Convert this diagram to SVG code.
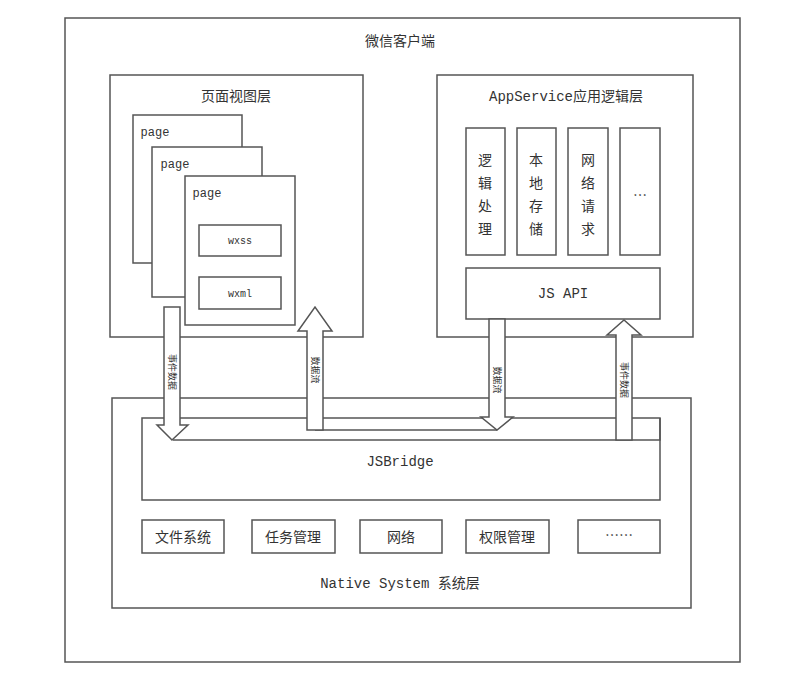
<svg xmlns="http://www.w3.org/2000/svg" width="799" height="686" viewBox="0 0 799 686">
<style>
rect{fill:#fff;stroke:#555;stroke-width:1.5}
text{font-family:"Noto Sans CJK SC","DejaVu Serif",serif;font-size:14px;fill:#333;text-anchor:middle}
.m{font-family:"Liberation Mono","Noto Sans CJK SC",monospace}
.s{font-size:12px}
.a{fill:#fff;stroke:#555;stroke-width:1.5}
.v{font-size:9px}
</style>
<rect width="799" height="686" style="fill:#fff;stroke:none"/>
<g id="client"><rect x="65" y="18" width="675" height="644"/><text x="400" y="46">微信客户端</text></g>
<g id="view"><rect x="110" y="75" width="253" height="262"/><text x="236" y="101">页面视图层</text>
<rect x="133" y="115" width="109" height="148"/><text class="m s" x="155" y="136">page</text>
<rect x="152" y="147" width="110" height="150"/><text class="m s" x="175" y="168">page</text>
<rect x="185" y="176" width="110" height="149"/><text class="m s" x="207" y="197">page</text>
<rect x="199" y="225" width="82" height="31"/><text class="m" style="font-size:10px" x="240" y="244">wxss</text>
<rect x="199" y="277" width="82" height="32"/><text class="m" style="font-size:10px" x="240" y="297">wxml</text></g>
<g id="appservice"><rect x="437" y="75" width="256" height="262"/><text class="m" x="566" y="101">AppService应用逻辑层</text>
<rect x="466" y="128" width="39" height="127"/><text x="485" y="165">逻</text><text x="485" y="188">辑</text><text x="485" y="211">处</text><text x="485" y="234">理</text>
<rect x="517" y="128" width="39" height="127"/><text x="536" y="165">本</text><text x="536" y="188">地</text><text x="536" y="211">存</text><text x="536" y="234">储</text>
<rect x="568" y="128" width="40" height="127"/><text x="588" y="165">网</text><text x="588" y="188">络</text><text x="588" y="211">请</text><text x="588" y="234">求</text>
<rect x="620" y="128" width="40" height="127"/><text x="640" y="200">…</text>
<rect x="466" y="268" width="194" height="51"/><text class="m" x="563" y="298">JS API</text></g>
<g id="native"><rect x="112" y="398" width="579" height="210"/>
<rect x="142" y="418" width="518" height="82"/><text class="m" x="400" y="466">JSBridge</text>
<rect x="142" y="520" width="82" height="33"/><text x="183" y="542">文件系统</text>
<rect x="252" y="520" width="83" height="33"/><text x="293" y="542">任务管理</text>
<rect x="360" y="520" width="82" height="33"/><text x="401" y="542">网络</text>
<rect x="466" y="520" width="83" height="33"/><text x="507" y="542">权限管理</text>
<rect x="578" y="520" width="82" height="33"/><text x="619" y="540">……</text>
<text class="m" x="400" y="588">Native System 系统层</text></g>
<g id="connectors">
<polyline points="173,440 660,440 660,418" style="fill:none;stroke:#555;stroke-width:1.5"/>
<line x1="315" y1="430" x2="497" y2="430" style="stroke:#555;stroke-width:1.5"/>
<polygon class="a" points="164,307 180,307 180,425 188,425 172,440 157,425 164,425"/>
<polygon class="a" points="307,430 323,430 323,331 332,331 315,307 298,331 307,331"/>
<polygon class="a" points="489,319 505,319 505,417 513,417 497,430 481,417 489,417"/>
<polygon class="a" points="616,440 632,440 632,335 641,335 624,320 607,335 616,335"/>
<text class="v" transform="translate(172,372) rotate(90)" y="3">事件数据</text>
<text class="v" transform="translate(315,370) rotate(90)" y="3">数据流</text>
<text class="v" transform="translate(497,380) rotate(90)" y="3">数据流</text>
<text class="v" transform="translate(624,380) rotate(90)" y="3">事件数据</text>
</g>
</svg>
